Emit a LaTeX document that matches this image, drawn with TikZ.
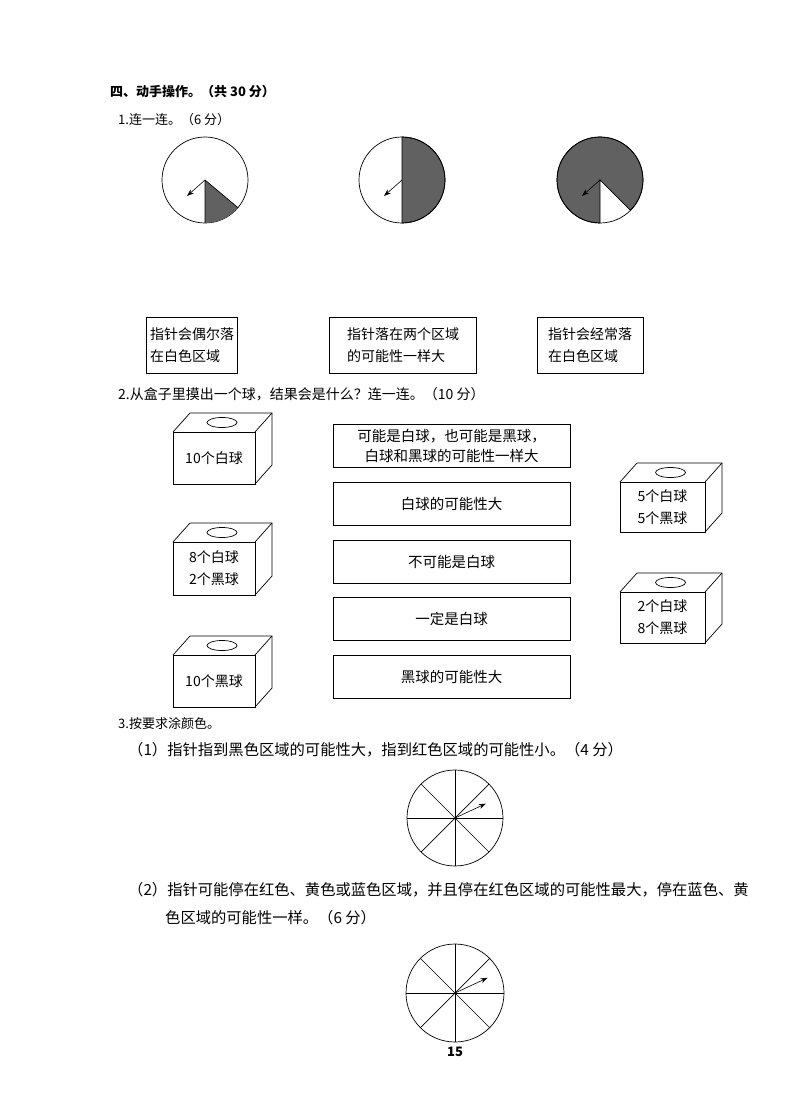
\documentclass[tikz,border=0pt]{standalone}
\usepackage{fontspec}
\setmainfont{Noto Sans CJK SC}
\usetikzlibrary{arrows.meta}
\begin{document}
\begin{tikzpicture}[x=1pt,y=-1pt,
 txt/.style={font=\fontsize{13}{15}\selectfont,anchor=west,inner sep=0},
 big/.style={font=\fontsize{15.3}{17}\selectfont},
 lbl/.style={draw,line width=0.8pt,rectangle,font=\fontsize{14}{22}\selectfont,align=left},
 opt/.style={draw,line width=0.8pt,minimum width=237pt,minimum height=43pt,font=\fontsize{14.5}{20}\selectfont,align=center},
 ln/.style={line width=0.7pt},
 arr/.style={-{Stealth[length=7pt,width=5pt]},line width=0.6pt},
 grey/.style={fill=black!62}]
\useasboundingbox (0,0) rectangle (800,1107);
\node[txt,font=\fontsize{13}{15}\selectfont\bfseries] (t0) at (110,92) {四、动手操作。（共 30 分）};
\node[txt] (t1) at (118,120) {1.连一连。（6 分）};
% circles
\coordinate (c1) at (205,180); \coordinate (c2) at (402,180); \coordinate (c3) at (600,180);
\draw[ln] (c1) circle (43);
\fill[grey] (c1) -- ++(40:43) arc (40:90:43) -- cycle;
\draw[ln] (c1) -- ++(40:43) (c1) -- ++(90:43);
\draw[arr] (c1) -- ++(-18,16) coordinate (a1);
\draw[ln,grey] (c2) -- ++(-90:43) arc (-90:90:43) -- cycle;
\draw[ln] (c2) circle (43);
\draw[arr] (c2) -- ++(-18,16) coordinate (a2);
\draw[ln,grey] (c3) -- ++(90:43) arc (90:405:43) -- cycle;
\draw[ln] (c3) circle (43);
\draw[arr] (c3) -- ++(-18,16) coordinate (a3);
\node[lbl,minimum width=88pt,minimum height=56pt] (b1) at (192,345) {指针会偶尔落\\在白色区域};
\node[lbl,minimum width=147pt,minimum height=56pt] (b2) at (403,345) {指针落在两个区域\\的可能性一样大};
\node[lbl,minimum width=106pt,minimum height=56pt] (b3) at (590,345) {指针会经常落\\在白色区域};
\node[txt,font=\fontsize{14}{16}\selectfont] (t2) at (118,394) {2.从盒子里摸出一个球，结果会是什么？连一连。（10 分）};
% 3D boxes
\newcommand{\ballbox}[6]{% x y w h name text
 \draw[ln] (#1,#2) rectangle ++(#3,#4);
 \draw[ln] (#1,#2) -- ++(17,-19) -- ++(#3,0) -- ++(0,#4) -- ++(-17,19);
 \draw[ln] (#1+#3,#2) -- ++(17,-19);
 \draw[ln] (#1+#3/2+8,#2-9.5) ellipse (15 and 5);
 \node[font=\fontsize{14}{22}\selectfont,align=center] (#5) at (#1+#3/2,#2+#4/2) {#6};}
\ballbox{173}{432}{82}{52}{k1}{10个白球}
\ballbox{173}{542}{82}{53}{k2}{8个白球\\2个黑球}
\ballbox{173}{655}{82}{52}{k3}{10个黑球}
\ballbox{620}{482}{85}{50}{k4}{5个白球\\5个黑球}
\ballbox{620}{592}{85}{51}{k5}{2个白球\\8个黑球}
\node[opt] (o1) at (451.5,446) {可能是白球，也可能是黑球，\\白球和黑球的可能性一样大};
\node[opt] (o2) at (451.5,503.5) {白球的可能性大};
\node[opt] (o3) at (451.5,561.5) {不可能是白球};
\node[opt] (o4) at (451.5,619) {一定是白球};
\node[opt] (o5) at (451.5,676.5) {黑球的可能性大};
\node[txt] (t3) at (118,724) {3.按要求涂颜色。};
\node[txt,big] (t4) at (128,750) {（1）指针指到黑色区域的可能性大，指到红色区域的可能性小。（4 分）};
\coordinate (w1) at (455,818);
\draw[ln] (w1) circle (48);
\foreach \a in {0,45,...,135} \draw[ln] (w1) ++(\a:48) -- ++(\a+180:96);
\draw[arr] (w1) -- ++(-25:34) coordinate (p1);
\node[txt,big] (t5) at (128,890) {（2）指针可能停在红色、黄色或蓝色区域，并且停在红色区域的可能性最大，停在蓝色、黄};
\node[txt,big] (t6) at (165,918) {色区域的可能性一样。（6 分）};
\coordinate (w2) at (455,993);
\draw[ln] (w2) circle (49);
\foreach \a in {0,45,...,135} \draw[ln] (w2) ++(\a:49) -- ++(\a+180:98);
\draw[arr] (w2) -- ++(-25:36) coordinate (p2);
\node[font=\fontsize{13}{15}\selectfont\bfseries] (pg) at (455,1052) {15};
\end{tikzpicture}
\end{document}
